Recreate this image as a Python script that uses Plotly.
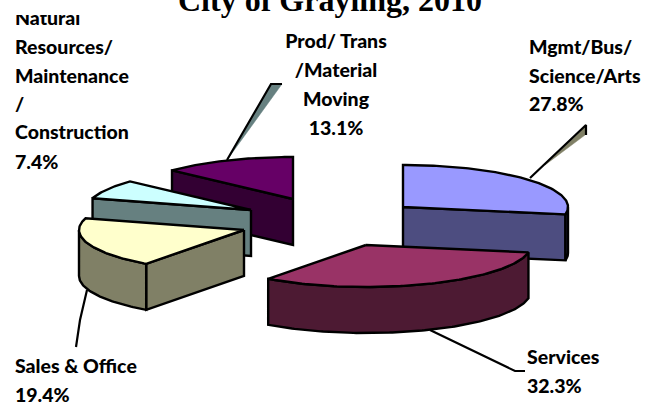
import numpy as np
import plotly.graph_objects as go

# ---- data ----
categories = ["Mgmt/Bus/Science/Arts", "Services", "Sales & Office",
              "Natural Resources/Maintenance/Construction", "Prod/Trans/Material Moving"]
shares = [27.8, 32.3, 19.4, 7.4, 13.1]
top_colors = ["#9999FF", "#993366", "#FFFFCC", "#CCFFFF", "#660066"]
side_colors = ["#4D4D80", "#4D1A33", "#808066", "#668080", "#330033"]

# ---- layout of the exploded 3-D pie (pixels) ----
apex_x = [403, 366, 244, 251, 293]
apex_y = [207, 245, 230, 210, 199]
RX, RY, DEPTH = 165, 42, 46
draw_order = [4, 3, 2, 0, 1]
LW = 2.4

total = sum(shares)
edges = np.concatenate([[0], np.cumsum(shares)]) / total * 2 * np.pi


def rim(cx, cy, a0, a1, dy=0.0):
    t = np.linspace(a0, a1, max(3, int(abs(a1 - a0) * 60)))
    return cx + RX * np.sin(t), cy - RY * np.cos(t) + dy


fig = go.Figure()


def poly(x, y, fill, line_color="black", width=LW):
    fig.add_trace(go.Scatter(
        x=list(x), y=list(y), mode="lines", fill="toself", fillcolor=fill,
        line=dict(color=line_color, width=width), hoverinfo="skip", showlegend=False))


def leader(x, y):
    fig.add_trace(go.Scatter(x=x, y=y, mode="lines", line=dict(color="black", width=2.2),
                             hoverinfo="skip", showlegend=False))


for i in draw_order:
    a0, a1 = edges[i], edges[i + 1]
    cx, cy = apex_x[i], apex_y[i]
    # radial wall that faces the viewer: closing edge right of centre, opening edge left of it
    for a, visible in ((a0, a0 > np.pi), (a1, a1 < np.pi)):
        if visible:
            ex, ey = cx + RX * np.sin(a), cy - RY * np.cos(a)
            poly([cx, ex, ex, cx, cx], [cy, ey, ey + DEPTH, cy + DEPTH, cy], side_colors[i])
    # outer wall, front half only
    w0, w1 = max(a0, np.pi / 2), min(a1, 1.5 * np.pi)
    if w1 > w0:
        xt, yt = rim(cx, cy, w0, w1)
        xb, yb = rim(cx, cy, w0, w1, DEPTH)
        poly(np.r_[xt, xb[::-1], xt[0]], np.r_[yt, yb[::-1], yt[0]], side_colors[i])
    # top face
    xa, ya = rim(cx, cy, a0, a1)
    poly(np.r_[cx, xa, cx], np.r_[cy, ya, cy], top_colors[i])

# ---- leader lines ----
poly([545, 585, 585, 545], [165, 127, 135, 165], "#808066", line_color="#808066", width=0.5)
poly([227, 271, 282, 227], [160, 84, 84, 160], "#668080", line_color="#668080", width=0.5)
leader([530, 586, 586], [178, 125, 135])
leader([227, 271, 282], [160, 84, 84])
leader([87, 80, 76], [290, 320, 347])
leader([430, 515, 525], [330, 371, 371])

# ---- labels, one text per line ----
LABEL_FONT = dict(family="Lato, Carlito, Calibri", size=19.5, color="black", weight=900)


def text_lines(lines, x, ys, pos):
    fig.add_trace(go.Scatter(x=[x] * len(lines), y=ys, mode="text", text=lines, textposition=pos,
                             textfont=LABEL_FONT, hoverinfo="skip", showlegend=False, cliponaxis=False))


text_lines(["Natural", "Resources/", "Maintenance", "/", "Construction", "7.4%"],
           15, [20, 49, 78, 106, 134, 164], "middle right")
text_lines(["Prod/ Trans", "/Material", "Moving", "13.1%"],
           336, [43, 72, 101, 130], "middle center")
text_lines(["Mgmt/Bus/", "Science/Arts", "27.8%"], 529, [49, 78, 106], "middle right")
text_lines(["Services", "32.3%"], 527, [359, 388], "middle right")
text_lines(["Sales & Office", "19.4%"], 15, [368, 397], "middle right")

# white band hides the top of the first label line, as in the original
poly([0, 170, 170, 0, 0], [0, 0, 15, 15, 0], "white", line_color="white", width=0)

fig.add_trace(go.Scatter(x=[330], y=[3], mode="text", text=["City of Grayling, 2010"],
                         textposition="middle center",
                         textfont=dict(family="Liberation Serif", size=32, color="black", weight="bold"),
                         hoverinfo="skip", showlegend=False, cliponaxis=False))

fig.update_layout(
    width=655, height=402, margin=dict(l=0, r=0, t=0, b=0),
    paper_bgcolor="white", plot_bgcolor="white", showlegend=False,
    xaxis=dict(range=[0, 655], visible=False, fixedrange=True),
    yaxis=dict(range=[402, 0], visible=False, fixedrange=True),
)
fig.write_html("out.html", config={"displayModeBar": False},
               post_script="document.body.style.margin='0';")
